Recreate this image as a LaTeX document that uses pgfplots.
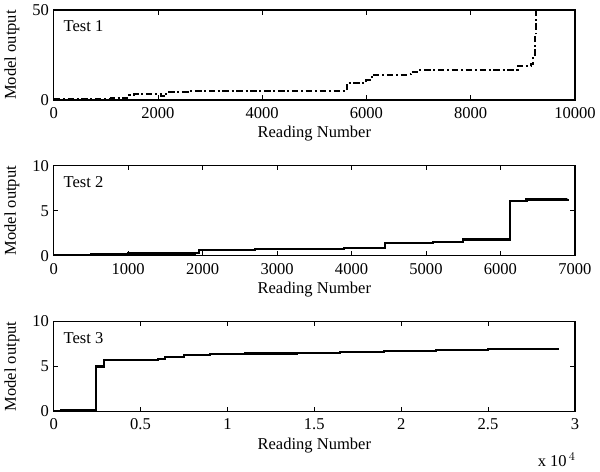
\documentclass[border=0pt]{standalone}
\usepackage{pgfplots}
\pgfplotsset{compat=1.18}
\usepackage{fontspec}
\setmainfont{Liberation Serif}
\begin{document}
\begin{tikzpicture}[x=1pt,y=1pt]
\pgfplotsset{
  every axis/.style={
    scale only axis, width=394pt, height=68pt,
    axis line style={line width=1.1pt},
    tick style={black, line width=0.6pt},
    major tick length=3.5pt,
    tick align=inside,
    xtick pos=both, ytick pos=both,
    scaled x ticks=false, scaled y ticks=false,
    ylabel={Model output},
    xlabel={Reading Number},
    ylabel style={yshift=3pt},
    xlabel style={yshift=1pt},
    xticklabel style={yshift=-2pt},
    /pgf/number format/assume math mode=true,
    /pgf/number format/1000 sep={},
    tick label style={font=\fontsize{12.5}{14}\selectfont},
    label style={font=\fontsize{12.5}{14}\selectfont},
    clip=false,
  }
}
% Test 1
\begin{axis}[at={(0,0)}, anchor=north west,
  xmin=0, xmax=10000, ymin=0, ymax=50,
  xtick={0,2000,4000,6000,8000,10000}, ytick={0,50}]
\addplot[black, line width=1.5pt, dash pattern=on 5pt off 2pt on 1.5pt off 2pt, const plot] coordinates {
(0,0.4) (300,0.5) (700,0.7) (1100,0.9) (1400,1.2) (1450,2.5) (1550,3.2) (2050,2.2) (2150,4.3) (2600,4.8) (3000,5) (5600,5.2) (5620,9.5) (6000,11) (6100,14) (6800,14.2) (6850,15.5) (7000,16.5) (8850,16.7) (8900,19) (9150,20) (9200,25) (9230,35) (9260,50) (9270,50)};
\node[anchor=north west, font=\fontsize{12.5}{14}\selectfont] at (rel axis cs:0.01,0.93) {Test 1};
\end{axis}
% Test 2
\begin{axis}[at={(0,-117.75pt)}, anchor=north west,
  xmin=0, xmax=7000, ymin=0, ymax=10,
  xtick={0,1000,...,7000}, ytick={0,5,10}]
\addplot[black, line width=1.6pt, const plot] coordinates {
(0,0.05) (500,0.15) (1000,0.25) (1900,0.3) (1950,0.6) (2700,0.75) (3900,0.85) (4450,1.45) (5100,1.55) (5500,1.8) (6130,6.1) (6350,6.25) (6900,6.35)};
\node[anchor=north west, font=\fontsize{12.5}{14}\selectfont] at (rel axis cs:0.01,0.93) {Test 2};
\end{axis}
% Test 3
\begin{axis}[at={(0,-235.5pt)}, anchor=north west,
  xmin=0, xmax=30000, ymin=0, ymax=10,
  xtick={0,5000,10000,15000,20000,25000,30000},
  xticklabels={0,0.5,1,1.5,2,2.5,3},
  ytick={0,5,10}]
\addplot[black, line width=1.6pt, const plot] coordinates {
(0,0.05) (400,0.2) (2450,5.0) (2900,5.7) (6000,5.8) (6400,6.1) (7500,6.25) (9000,6.35) (11000,6.45) (14000,6.55) (16500,6.65) (19000,6.75) (22000,6.85) (25000,6.95) (29000,7.1)};
\node[anchor=north west, font=\fontsize{12.5}{14}\selectfont] at (rel axis cs:0.01,0.93) {Test 3};
\node[anchor=north east, font=\fontsize{12.5}{14}\selectfont] at ([yshift=-28pt,xshift=4pt]rel axis cs:1,0) {x 10$^{\,4}$};
\end{axis}
\end{tikzpicture}
\end{document}
